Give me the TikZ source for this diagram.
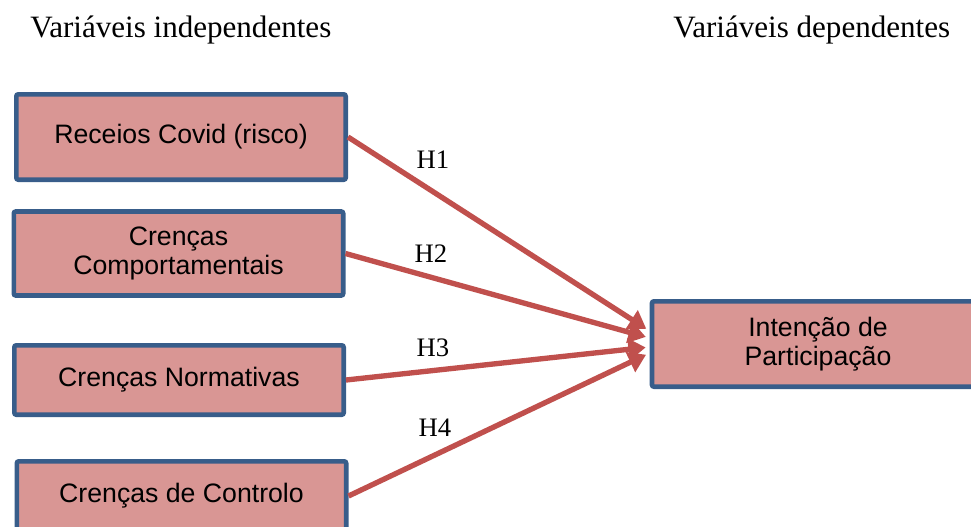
\documentclass[tikz,border=0pt]{standalone}
\usepackage{fontspec}
\setmainfont{Liberation Serif}
\setsansfont{Liberation Sans}
\usetikzlibrary{arrows.meta, calc}
\definecolor{boxfill}{HTML}{D99694}
\definecolor{boxline}{HTML}{385D8A}
\definecolor{hypred}{HTML}{C0504D}

\begin{document}
\begin{tikzpicture}[x=0.75pt, y=-0.75pt,
  var/.style={draw=boxline, line width=3.5pt, fill=boxfill, rounded corners=1.5pt,
    align=center, inner sep=0pt, font=\sffamily\fontsize{20}{22}\selectfont},
  hyp/.style={draw=hypred, line width=4pt, -{Triangle[length=13pt, width=16pt]}, shorten >=3pt},
  hlab/.style={inner sep=0pt, font=\fontsize{20}{22}\selectfont},
  head/.style={inner sep=0pt, anchor=base west, font=\fontsize{23.3}{26}\selectfont}]
\clip (0,0) rectangle (971,526);
% headings
\node[head] (indep) at (30,37) {Variáveis independentes};
\node[head] (dep) at (673,37) {Variáveis dependentes};
% independent variables
\node[var, minimum width=247pt, minimum height=64pt] (risco) at (181,137) {Receios Covid (risco)};
\node[var, minimum width=247pt, minimum height=63pt] (comport) at (178.5,253.5) {Crenças\\Comportamentais};
\node[var, minimum width=247pt, minimum height=52pt] (normat) at (179,380) {Crenças Normativas};
\node[var, minimum width=247pt, minimum height=52pt] (control) at (181.5,496) {Crenças de Controlo};
% dependent variable
\node[var, minimum width=249pt, minimum height=64pt] (intencao) at (818,344) {Intenção de\\Participação};
% hypotheses
\draw[hyp] (risco.east) -- ($(intencao.west)+(0,-13)$);
\draw[hyp] (comport.east) -- ($(intencao.west)+(0,-6)$);
\draw[hyp] (normat.east) -- ($(intencao.west)+(0,3)$);
\draw[hyp] (control.east) -- ($(intencao.west)+(0,9)$);
\node[hlab] (h1) at (433,160) {H1};
\node[hlab] (h2) at (431,254) {H2};
\node[hlab] (h3) at (433,348) {H3};
\node[hlab] (h4) at (435,428) {H4};
\end{tikzpicture}
\end{document}
